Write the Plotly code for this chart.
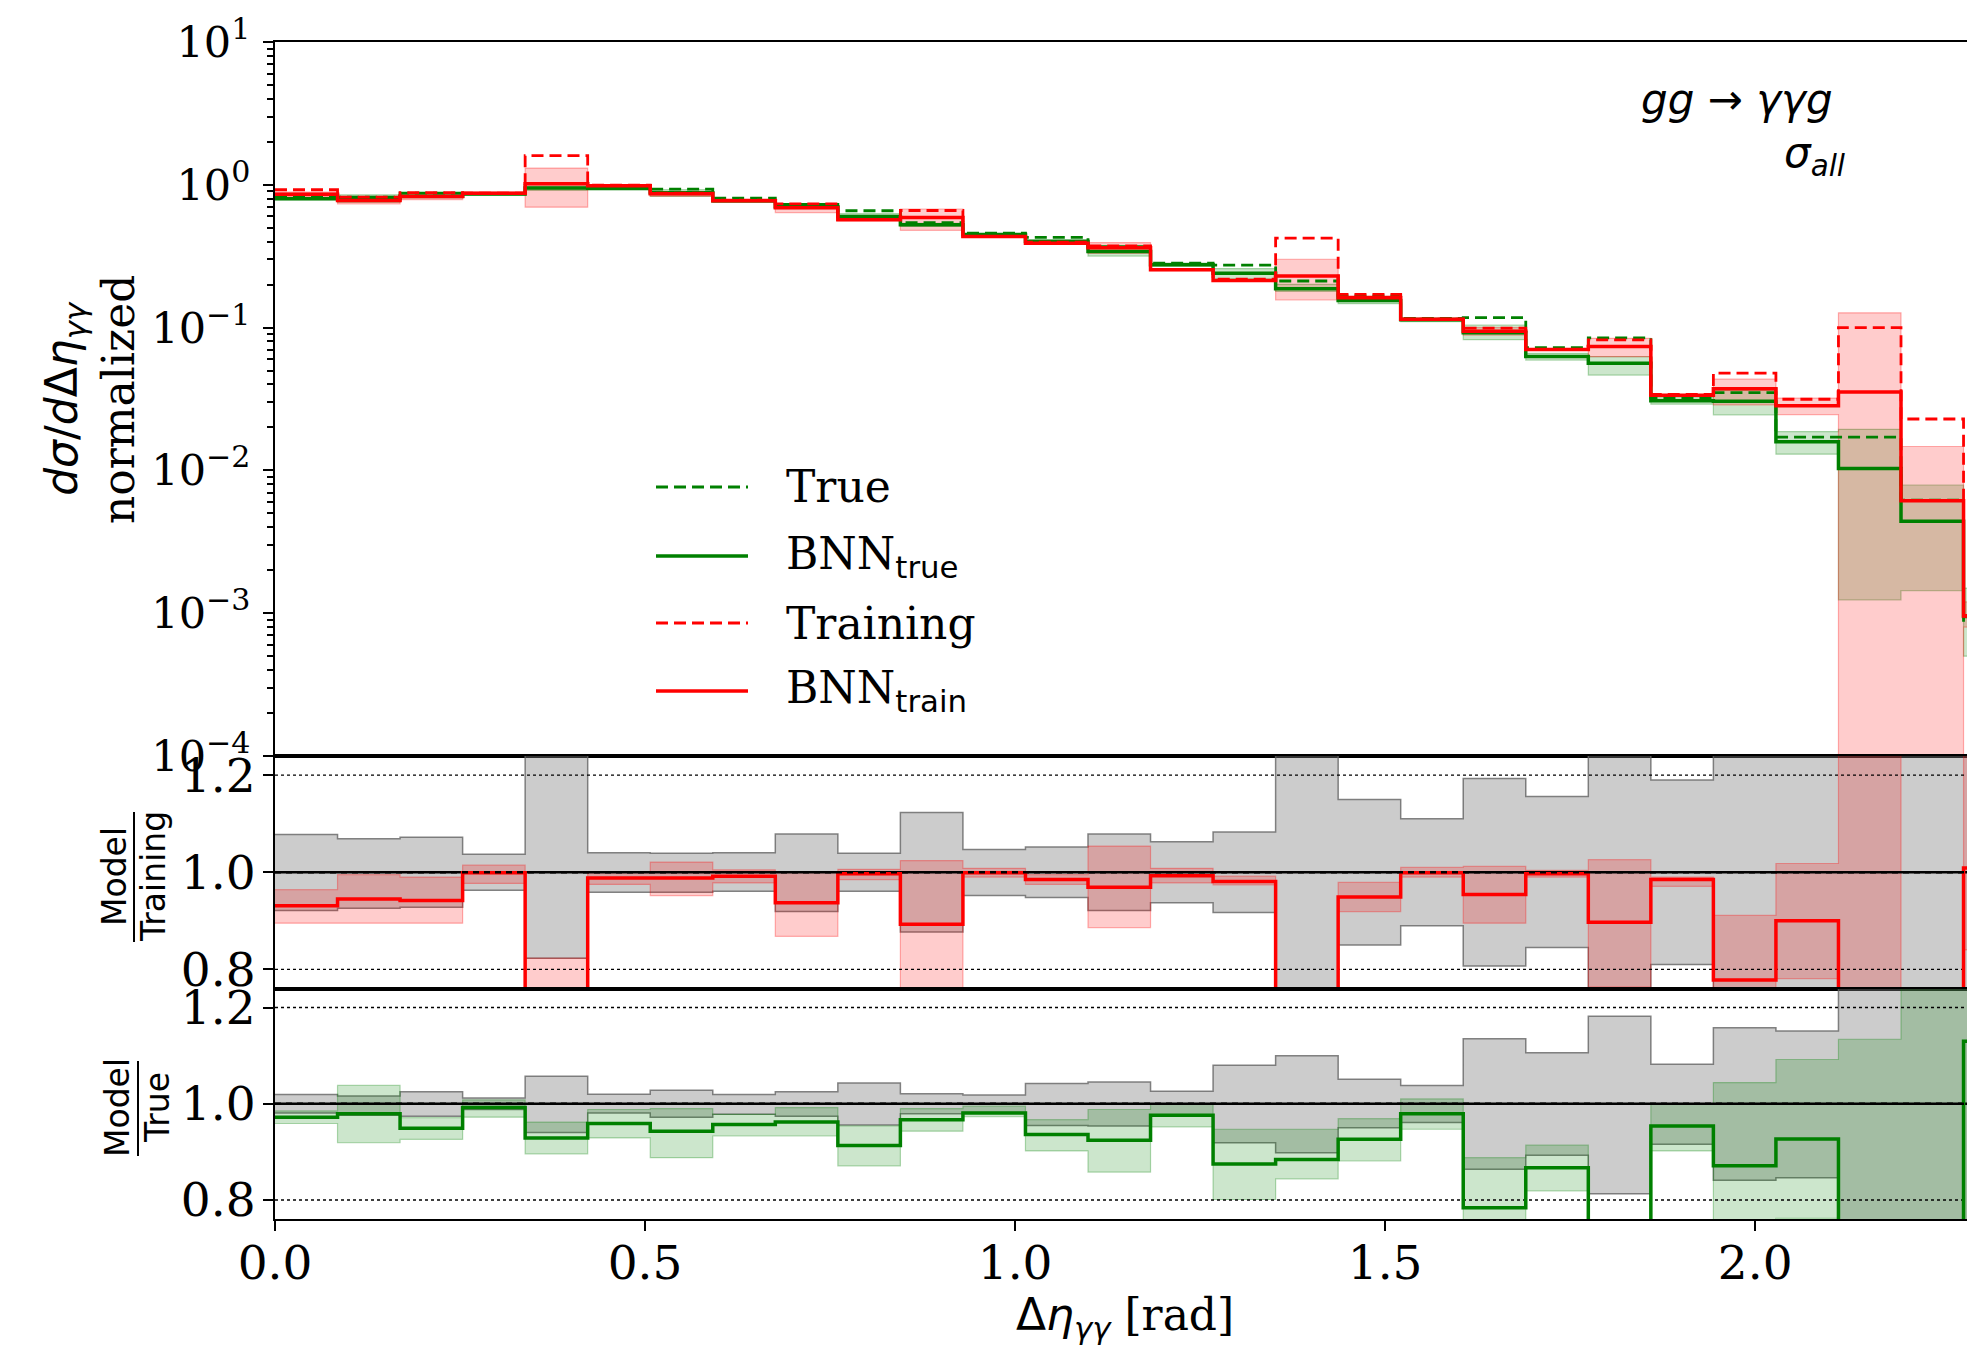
import plotly.graph_objects as go

# ---------------- data ----------------
bin_edges = [0.0, 0.0845, 0.169, 0.2535, 0.338, 0.4225, 0.507, 0.5915, 0.676, 0.7605,
             0.845, 0.9295, 1.014, 1.0985, 1.183, 1.2675, 1.352, 1.4365, 1.521, 1.6055,
             1.69, 1.7745, 1.859, 1.9435, 2.028, 2.1125, 2.197, 2.2815, 2.366]

true_vals = [0.821, 0.82, 0.875, 0.87, 1.02, 0.987, 0.933, 0.807, 0.73, 0.658,
             0.543, 0.458, 0.428, 0.369, 0.283, 0.274, 0.212, 0.167, 0.116, 0.1175,
             0.0723, 0.0846, 0.0323, 0.035, 0.0171, 0.0171, 0.0062, 0.00084]
bnn_true = [0.798, 0.803, 0.830, 0.863, 0.948, 0.947, 0.880, 0.772, 0.702, 0.601,
            0.525, 0.449, 0.401, 0.341, 0.276, 0.240, 0.187, 0.155, 0.1136, 0.0921,
            0.0627, 0.0563, 0.0308, 0.0305, 0.0159, 0.0103, 0.0044, 0.00095]
bnn_true_lo = [0.787, 0.754, 0.810, 0.846, 0.914, 0.917, 0.829, 0.753, 0.681, 0.573,
               0.512, 0.446, 0.386, 0.317, 0.269, 0.219, 0.179, 0.147, 0.110, 0.0823,
               0.0592, 0.0465, 0.0291, 0.0245, 0.0130, 0.00124, 0.00144, 0.0005]
bnn_true_hi = [0.809, 0.851, 0.850, 0.877, 0.981, 0.975, 0.924, 0.789, 0.724, 0.628,
               0.538, 0.456, 0.414, 0.365, 0.283, 0.259, 0.201, 0.162, 0.117, 0.1043,
               0.0661, 0.0626, 0.0323, 0.0365, 0.0187, 0.0194, 0.0079, 0.0015]

training_vals = [0.923, 0.82, 0.88, 0.875, 1.60, 0.995, 0.875, 0.78, 0.736, 0.571,
                 0.661, 0.435, 0.396, 0.374, 0.256, 0.218, 0.423, 0.171, 0.1146, 0.099,
                 0.0705, 0.082, 0.0341, 0.048, 0.0315, 0.100, 0.0229, 0.00095]
bnn_train = [0.859, 0.775, 0.829, 0.874, 1.016, 0.983, 0.865, 0.774, 0.690, 0.569,
             0.590, 0.435, 0.390, 0.362, 0.254, 0.214, 0.230, 0.162, 0.1145, 0.0944,
             0.0703, 0.0736, 0.0336, 0.0373, 0.0284, 0.0354, 0.00613, 0.00096]
bnn_train_lo = [0.826, 0.734, 0.788, 0.855, 0.697, 0.970, 0.833, 0.763, 0.639, 0.562,
                0.48, 0.431, 0.386, 0.331, 0.250, 0.212, 0.156, 0.157, 0.1135, 0.0886,
                0.0698, 0.0626, 0.0331, 0.0288, 0.0246, 1e-5, 1e-5, 0.0008]
bnn_train_hi = [0.890, 0.816, 0.871, 0.888, 1.31, 0.995, 0.893, 0.784, 0.736, 0.574,
                0.677, 0.438, 0.394, 0.394, 0.258, 0.216, 0.301, 0.167, 0.1157, 0.1002,
                0.0708, 0.0841, 0.0338, 0.0435, 0.0321, 0.127, 0.0147, 0.0012]

# Model / Training panel
ratio_train = [0.931, 0.945, 0.942, 0.999, 0.635, 0.988, 0.988, 0.992, 0.937, 0.997,
               0.893, 0.999, 0.985, 0.969, 0.993, 0.981, 0.544, 0.949, 0.999, 0.954,
               0.997, 0.897, 0.985, 0.778, 0.90, 0.354, 0.268, 1.009]
ratio_train_lo = [0.895, 0.895, 0.895, 0.977, 0.436, 0.975, 0.952, 0.978, 0.868, 0.985,
                  0.73, 0.99, 0.975, 0.886, 0.978, 0.974, 0.369, 0.919, 0.99, 0.895,
                  0.99, 0.764, 0.971, 0.60, 0.781, 0.0001, 0.0004, 0.84]
ratio_train_hi = [0.964, 0.995, 0.99, 1.0145, 0.823, 1.0, 1.021, 1.005, 1.0, 1.006,
                  1.024, 1.008, 0.995, 1.054, 1.008, 0.992, 0.712, 0.979, 1.010, 1.012,
                  1.004, 1.026, 0.99, 0.911, 1.018, 1.27, 0.64, 1.26]
grey_train_lo = [0.921, 0.926, 0.928, 0.963, 0.823, 0.959, 0.959, 0.961, 0.919, 0.961,
                 0.877, 0.952, 0.948, 0.921, 0.937, 0.917, 0.5, 0.850, 0.890, 0.807,
                 0.845, 0.6, 0.810, 0.6, 0.6, 0.5, 0.5, 0.5]
grey_train_hi = [1.078, 1.069, 1.072, 1.037, 1.5, 1.04, 1.039, 1.04, 1.079, 1.039,
                 1.123, 1.047, 1.052, 1.079, 1.063, 1.083, 1.5, 1.150, 1.110, 1.193,
                 1.156, 1.4, 1.19, 1.4, 1.4, 1.5, 1.5, 1.5]

# Model / True panel
ratio_true = [0.972, 0.979, 0.949, 0.992, 0.929, 0.959, 0.943, 0.957, 0.962, 0.913,
              0.967, 0.981, 0.936, 0.924, 0.976, 0.875, 0.884, 0.926, 0.979, 0.784,
              0.867, 0.665, 0.954, 0.871, 0.927, 0.60, 0.71, 1.13]
ratio_true_lo = [0.959, 0.919, 0.926, 0.972, 0.896, 0.929, 0.888, 0.933, 0.933, 0.871,
                 0.943, 0.973, 0.902, 0.858, 0.952, 0.801, 0.844, 0.881, 0.947, 0.70,
                 0.819, 0.55, 0.902, 0.70, 0.762, 0.073, 0.23, 0.6]
ratio_true_hi = [0.985, 1.038, 0.971, 1.008, 0.962, 0.988, 0.99, 0.978, 0.992, 0.954,
                 0.99, 0.995, 0.967, 0.988, 0.999, 0.947, 0.947, 0.969, 1.010, 0.888,
                 0.914, 0.74, 1.0, 1.044, 1.092, 1.134, 1.27, 1.8]
grey_true_lo = [0.981, 0.976, 0.974, 0.988, 0.94, 0.981, 0.972, 0.978, 0.974, 0.956,
                0.979, 0.982, 0.955, 0.954, 0.974, 0.919, 0.898, 0.950, 0.961, 0.864,
                0.893, 0.813, 0.916, 0.841, 0.846, 0.5, 0.5, 0.5]
grey_true_hi = [1.019, 1.016, 1.025, 1.012, 1.057, 1.02, 1.028, 1.019, 1.025, 1.043,
                1.021, 1.018, 1.042, 1.045, 1.026, 1.080, 1.100, 1.051, 1.038, 1.135,
                1.106, 1.182, 1.082, 1.158, 1.151, 1.5, 1.5, 1.5]

x_tickvals = [0.0, 0.5, 1.0, 1.5, 2.0]
x_ticktext = ["0.0", "0.5", "1.0", "1.5", "2.0"]
y_tickvals = [1e-4, 1e-3, 1e-2, 1e-1, 1e0, 1e1]
y_ticktext = ["10<sup>\u22124</sup>", "10<sup>\u22123</sup>", "10<sup>\u22122</sup>",
              "10<sup>\u22121</sup>", "10<sup>0</sup>", "10<sup>1</sup>"]
r_tickvals = [0.8, 1.0, 1.2]
r_ticktext = ["0.8", "1.0", "1.2"]

# ---------------- styling ----------------
GREEN = "#008000"
RED = "#ff0000"
GREEN_FILL = "rgba(0,128,0,0.2)"
GREEN_EDGE = "rgba(0,128,0,0.3)"
RED_FILL = "rgba(255,0,0,0.2)"
RED_EDGE = "rgba(255,0,0,0.3)"
GREY_FILL = "rgba(128,128,128,0.4)"
GREY_EDGE = "rgba(100,100,100,0.8)"
SANS = "DejaVu Sans"
SERIF = "DejaVu Serif"
DASH = "12px,6px"

fig = go.Figure()


def step_xy(vals):
    n = len(vals)
    return bin_edges[:n] + [bin_edges[n]], list(vals) + [vals[-1]]


def add_step(vals, xa, ya, color, width, dash=None):
    x, y = step_xy(vals)
    fig.add_trace(go.Scatter(x=x, y=y, mode="lines", xaxis=xa, yaxis=ya,
                             line=dict(shape="hv", color=color, width=width, dash=dash),
                             showlegend=False, hoverinfo="skip"))


def add_band(lo, hi, xa, ya, fill, edge, ew=1.2):
    x, ylo = step_xy(lo)
    _, yhi = step_xy(hi)
    fig.add_trace(go.Scatter(x=x, y=ylo, mode="lines", xaxis=xa, yaxis=ya,
                             line=dict(shape="hv", color=edge, width=ew),
                             showlegend=False, hoverinfo="skip"))
    fig.add_trace(go.Scatter(x=x, y=yhi, mode="lines", xaxis=xa, yaxis=ya,
                             line=dict(shape="hv", color=edge, width=ew),
                             fill="tonexty", fillcolor=fill,
                             showlegend=False, hoverinfo="skip"))


def add_hline(yv, xa, ya, color, width, dash=None):
    fig.add_trace(go.Scatter(x=[0, bin_edges[-1]], y=[yv, yv], mode="lines",
                             xaxis=xa, yaxis=ya,
                             line=dict(color=color, width=width, dash=dash),
                             showlegend=False, hoverinfo="skip"))


# ---- top panel ----
add_band(bnn_true_lo, bnn_true_hi, "x", "y", GREEN_FILL, GREEN_EDGE)
add_band(bnn_train_lo, bnn_train_hi, "x", "y", RED_FILL, RED_EDGE)
add_step(true_vals, "x", "y", GREEN, 2.8, DASH)
add_step(bnn_true, "x", "y", GREEN, 3.5)
add_step(training_vals, "x", "y", RED, 2.8, DASH)
add_step(bnn_train, "x", "y", RED, 3.5)

# ---- Model / Training panel ----
add_band(grey_train_lo, grey_train_hi, "x2", "y2", GREY_FILL, GREY_EDGE, 1.5)
add_band(ratio_train_lo, ratio_train_hi, "x2", "y2", RED_FILL, RED_EDGE)
add_hline(1.2, "x2", "y2", "black", 1.3, "dot")
add_hline(0.8, "x2", "y2", "black", 1.3, "dot")
add_hline(1.0, "x2", "y2", "black", 2.5)
add_step(ratio_train, "x2", "y2", RED, 3.5)
add_hline(1.0, "x2", "y2", "black", 2.5, "6px,5px")

# ---- Model / True panel ----
add_band(grey_true_lo, grey_true_hi, "x3", "y3", GREY_FILL, GREY_EDGE, 1.5)
add_band(ratio_true_lo, ratio_true_hi, "x3", "y3", GREEN_FILL, GREEN_EDGE)
add_hline(1.2, "x3", "y3", "black", 1.3, "dot")
add_hline(0.8, "x3", "y3", "black", 1.3, "dot")
add_hline(1.0, "x3", "y3", "black", 2.5)
add_step(ratio_true, "x3", "y3", GREEN, 3.5)
add_hline(1.0, "x3", "y3", "black", 2.5, "6px,5px")

# ---------------- layout ----------------
W, H = 1967, 1349
ML, MR, MT, MB = 275, 0, 42, 130
PW, PH = W - ML - MR, H - MT - MB


def px_x(p):
    return (p - ML) / PW


def px_y(p):
    return (H - MB - p) / PH


d_bot = [0.0, px_y(988.5)]
d_mid = [px_y(988.5), px_y(756.0)]
d_top = [px_y(756.0), 1.0]

x_range = [0, (W - ML) / 740.1]
xcommon = dict(range=x_range, showline=True, linecolor="black", linewidth=2, mirror=True,
               showgrid=False, zeroline=False)
ycommon = dict(showline=True, linecolor="black", linewidth=2, mirror=False,
               showgrid=False, zeroline=False, ticks="outside", ticklen=10, tickwidth=2,
               tickcolor="black")

minor_vals = [m * 10.0 ** k for k in range(-4, 1) for m in range(2, 10)]

fig.update_layout(
    width=W, height=H,
    margin=dict(l=ML, r=MR, t=MT, b=MB, pad=0),
    paper_bgcolor="white", plot_bgcolor="white",
    showlegend=False,
    font=dict(family=SERIF, size=43, color="black"),
    xaxis=dict(**xcommon, anchor="y", domain=[0, 1], ticks="", showticklabels=False),
    xaxis2=dict(**xcommon, anchor="y2", domain=[0, 1], ticks="", showticklabels=False),
    xaxis3=dict(**xcommon, anchor="y3", domain=[0, 1], ticks="outside", ticklen=10,
                tickwidth=2, tickcolor="black", tickvals=x_tickvals, ticktext=x_ticktext,
                tickfont=dict(family=SERIF, size=47, color="black"), ticklabelstandoff=-8),
    yaxis=dict(**ycommon, type="log", range=[-4, 1], domain=d_top, anchor="x",
               tickvals=y_tickvals, ticktext=y_ticktext,
               tickfont=dict(family=SERIF, size=43, color="black"), ticklabelstandoff=4,
               minor=dict(tickvals=minor_vals, ticks="outside", ticklen=6, tickwidth=1.5,
                          tickcolor="black")),
    yaxis2=dict(**ycommon, range=[0.7605, 1.2395], domain=d_mid, anchor="x2",
                tickvals=r_tickvals, ticktext=r_ticktext,
                tickfont=dict(family=SERIF, size=47, color="black"), ticklabelstandoff=-2),
    yaxis3=dict(**ycommon, range=[0.7605, 1.2395], domain=d_bot, anchor="x3",
                tickvals=r_tickvals, ticktext=r_ticktext,
                tickfont=dict(family=SERIF, size=47, color="black"), ticklabelstandoff=-2),
)

annotations = []
shapes = []

# y-axis title of the top panel
annotations.append(dict(
    text=("<span style='font-family:DejaVu Sans'><i>d\u03c3</i>/<i>d</i>\u0394<i>\u03b7</i>"
          "<sub><i>\u03b3\u03b3</i></sub></span><br>normalized"),
    x=px_x(90), y=px_y(400), xref="paper", yref="paper", xanchor="center", yanchor="middle",
    textangle=-90, showarrow=False, font=dict(family=SERIF, size=44, color="black")))


def vlabel(text, px, py):
    annotations.append(dict(text=text, x=px_x(px), y=px_y(py), xref="paper", yref="paper",
                            xanchor="center", yanchor="middle", textangle=-90,
                            showarrow=False, font=dict(family=SANS, size=33, color="black")))


# ratio-panel labels (fractions)
vlabel("Model", 114, 877)
vlabel("Training", 153, 877)
shapes.append(dict(type="line", xref="paper", yref="paper", x0=px_x(134), x1=px_x(134),
                   y0=px_y(812), y1=px_y(942), line=dict(color="black", width=2)))
vlabel("Model", 117, 1108)
vlabel("True", 157, 1108)
shapes.append(dict(type="line", xref="paper", yref="paper", x0=px_x(138), x1=px_x(138),
                   y0=px_y(1061), y1=px_y(1156), line=dict(color="black", width=2)))

# x-axis title
annotations.append(dict(
    text=("<span style='font-family:DejaVu Sans'>\u0394<i>\u03b7</i><sub><i>\u03b3\u03b3</i>"
          "</sub></span> [rad]"),
    x=px_x(1125), y=px_y(1318), xref="paper", yref="paper", xanchor="center",
    yanchor="middle", showarrow=False, font=dict(family=SERIF, size=44, color="black")))

# process labels
annotations.append(dict(text="<i>gg</i> \u2192 <i>\u03b3\u03b3g</i>", x=px_x(1737), y=px_y(100),
                        xref="paper", yref="paper", xanchor="center", yanchor="middle",
                        showarrow=False, font=dict(family=SANS, size=42, color="black")))
annotations.append(dict(text="<i>\u03c3<sub>all</sub></i>", x=px_x(1815), y=px_y(155),
                        xref="paper", yref="paper", xanchor="center", yanchor="middle",
                        showarrow=False, font=dict(family=SANS, size=42, color="black")))

# legend (drawn manually to match the long matplotlib handles)
legend_items = [
    ("True", GREEN, DASH, 2.8),
    ("BNN<sub><span style='font-family:DejaVu Sans'>true</span></sub>", GREEN, None, 3.5),
    ("Training", RED, DASH, 2.8),
    ("BNN<sub><span style='font-family:DejaVu Sans'>train</span></sub>", RED, None, 3.5),
]
legend_y = [487, 556, 623, 691]
for (label, col, dash, w), ly in zip(legend_items, legend_y):
    shapes.append(dict(type="line", xref="paper", yref="paper", x0=px_x(656), x1=px_x(748),
                       y0=px_y(ly), y1=px_y(ly),
                       line=dict(color=col, width=w, dash=dash if dash else "solid")))
    annotations.append(dict(text=label, x=px_x(784), y=px_y(ly), xref="paper", yref="paper",
                            xanchor="left", yanchor="middle", showarrow=False,
                            font=dict(family=SERIF, size=44, color="black")))

fig.update_layout(annotations=annotations, shapes=shapes)

fig.write_html("out.html")
